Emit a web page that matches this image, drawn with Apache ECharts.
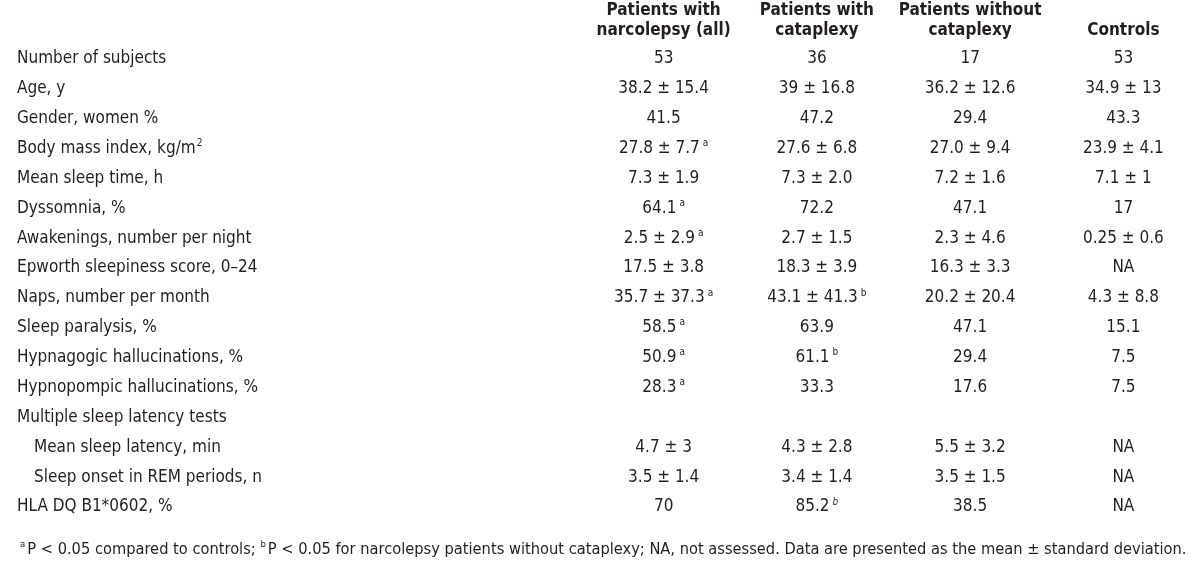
<!DOCTYPE html>
<html>
<head>
<meta charset="utf-8">
<script src="https://cdn.jsdelivr.net/npm/echarts@6/dist/echarts.min.js"></script>
<style>
  html, body { margin: 0; padding: 0; background: #fff; }
  #chart { width: 1200px; height: 568px; }
</style>
</head>
<body>
<div id="chart"></div>
<script>
const FONT = "'DejaVu Sans Condensed', 'Liberation Sans Narrow', sans-serif";
const INK = "#231f20";

const rowLabels = [
  "Number of subjects",
  "Age, y",
  "Gender, women %",
  "Body mass index, kg/m2",
  "Mean sleep time, h",
  "Dyssomnia, %",
  "Awakenings, number per night",
  "Epworth sleepiness score, 0–24",
  "Naps, number per month",
  "Sleep paralysis, %",
  "Hypnagogic hallucinations, %",
  "Hypnopompic hallucinations, %",
  "Multiple sleep latency tests",
  "Mean sleep latency, min",
  "Sleep onset in REM periods, n",
  "HLA DQ B1*0602, %"
];
const indentedRows = ["Mean sleep latency, min", "Sleep onset in REM periods, n"];

const columns = [
  "Patients with\nnarcolepsy (all)",
  "Patients with\ncataplexy",
  "Patients without\ncataplexy",
  "Controls"
];

const narcolepsyAll = ["53", "38.2 ± 15.4", "41.5", "27.8 ± 7.7", "7.3 ± 1.9", "64.1", "2.5 ± 2.9",
  "17.5 ± 3.8", "35.7 ± 37.3", "58.5", "50.9", "28.3", "", "4.7 ± 3", "3.5 ± 1.4", "70"];
const narcolepsyAllNotes = ["", "", "", "a", "", "a", "a", "", "a", "a", "a", "a", "", "", "", ""];

const withCataplexy = ["36", "39 ± 16.8", "47.2", "27.6 ± 6.8", "7.3 ± 2.0", "72.2", "2.7 ± 1.5",
  "18.3 ± 3.9", "43.1 ± 41.3", "63.9", "61.1", "33.3", "", "4.3 ± 2.8", "3.4 ± 1.4", "85.2"];
const withCataplexyNotes = ["", "", "", "", "", "", "", "", "b", "", "b", "", "", "", "", "bi"];

const withoutCataplexy = ["17", "36.2 ± 12.6", "29.4", "27.0 ± 9.4", "7.2 ± 1.6", "47.1", "2.3 ± 4.6",
  "16.3 ± 3.3", "20.2 ± 20.4", "47.1", "29.4", "17.6", "", "5.5 ± 3.2", "3.5 ± 1.5", "38.5"];

const controls = ["53", "34.9 ± 13", "43.3", "23.9 ± 4.1", "7.1 ± 1", "17", "0.25 ± 0.6",
  "NA", "4.3 ± 8.8", "15.1", "7.5", "7.5", "", "NA", "NA", "NA"];

const footnote = [
  ["a", "P < 0.05 compared to controls; "],
  ["b", "P < 0.05 for narcolepsy patients without cataplexy; NA, not assessed. Data are presented as the mean ± standard deviation."]
];

const tableColumns = [
  [narcolepsyAll, narcolepsyAllNotes],
  [withCataplexy, withCataplexyNotes],
  [withoutCataplexy, []],
  [controls, []]
];

const cells = [];
tableColumns.forEach(([vals, notes], c) => {
  vals.forEach((v, r) => {
    if (v === "") return;
    cells.push({ value: [columns[c], rowLabels[r]], text: v, note: notes[r] || "" });
  });
});

const SIZE = 17;
const supStyle = { fontSize: 10, fontFamily: FONT, color: INK, verticalAlign: "top", lineHeight: 20, padding: [0, 0, 0, 3] };

const chart = echarts.init(document.getElementById("chart"), null, { renderer: "canvas" });

chart.setOption({
  backgroundColor: "#fff",
  animation: false,
  title: {
    left: 15,
    top: 535,
    text: footnote.map(([s, t]) => "{sup|" + s + "}{txt|" + t + "}").join(""),
    textStyle: {
      fontWeight: "normal",
      rich: {
        txt: { fontSize: 16.3, fontFamily: FONT, color: INK, lineHeight: 20, fontWeight: "normal" },
        sup: { fontSize: 9.5, fontFamily: FONT, color: INK, verticalAlign: "top", lineHeight: 20, padding: [0, 2, 0, 0], fontWeight: "normal" }
      }
    }
  },
  grid: { left: 587, top: 44, width: 616, height: 478 },
  xAxis: {
    type: "category",
    position: "top",
    data: columns,
    axisLine: { show: false },
    axisTick: { show: false },
    splitLine: { show: false },
    axisLabel: {
      margin: 3,
      fontFamily: FONT,
      fontSize: SIZE,
      fontWeight: "bold",
      lineHeight: 20,
      color: INK,
      interval: 0
    }
  },
  yAxis: {
    type: "category",
    inverse: true,
    data: rowLabels,
    axisLine: { show: false },
    axisTick: { show: false },
    splitLine: { show: false },
    axisLabel: {
      align: "left",
      margin: 570,
      interval: 0,
      fontFamily: FONT,
      fontSize: SIZE,
      color: INK,
      formatter: (v) => {
        if (v.endsWith("kg/m2")) return "{t|" + v.slice(0, -1) + "}{sup|2}";
        if (indentedRows.includes(v)) return "{ind|" + v + "}";
        return "{t|" + v + "}";
      },
      rich: {
        t: { fontSize: SIZE, fontFamily: FONT, color: INK, lineHeight: 20 },
        ind: { fontSize: SIZE, fontFamily: FONT, color: INK, lineHeight: 20, padding: [0, 0, 0, 17] },
        sup: Object.assign({}, supStyle, { padding: [0, 0, 0, 1] })
      }
    }
  },
  series: [{
    type: "scatter",
    symbolSize: 0,
    data: cells,
    itemStyle: { opacity: 1 },
    label: {
      show: true,
      position: "inside",
      color: INK,
      opacity: 1,
      formatter: (p) => {
        const d = p.data;
        let s = "{t|" + d.text + "}";
        if (d.note === "bi") s += "{supi|b}";
        else if (d.note) s += "{sup|" + d.note + "}";
        return s;
      },
      rich: {
        t: { fontSize: SIZE, fontFamily: FONT, color: INK, lineHeight: 20 },
        sup: supStyle,
        supi: Object.assign({}, supStyle, { fontStyle: "italic" })
      }
    }
  }]
});
</script>
</body>
</html>
